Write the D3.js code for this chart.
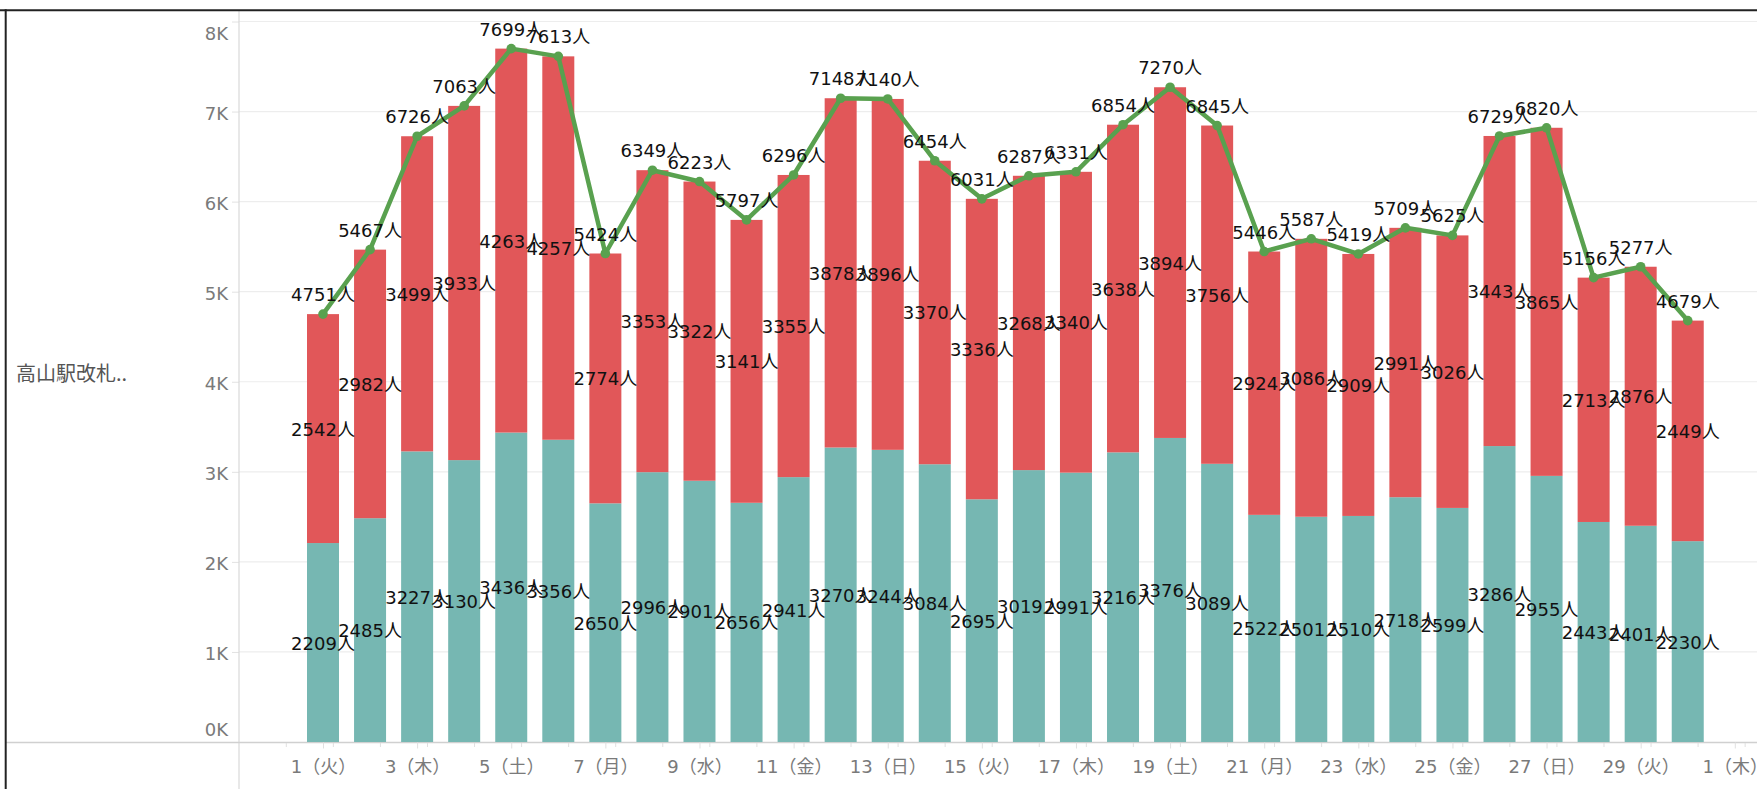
<!DOCTYPE html>
<html>
<head>
<meta charset="utf-8">
<script src="https://cdn.jsdelivr.net/npm/d3@7"></script>
<style>
  html, body { margin: 0; padding: 0; background: #fff; }
  svg { display: block; }
</style>
</head>
<body>
<svg id="chart" width="1757" height="789"></svg>
<script>
// ---- data ----
const days = [1,2,3,4,5,6,7,8,9,10,11,12,13,14,15,16,17,18,19,20,21,22,23,24,25,26,27,28,29,30];
const tealValues = [2209,2485,3227,3130,3436,3356,2650,2996,2901,2656,2941,3270,3244,3084,2695,3019,2991,3216,3376,3089,2522,2501,2510,2718,2599,3286,2955,2443,2401,2230];
const redValues  = [2542,2982,3499,3933,4263,4257,2774,3353,3322,3141,3355,3878,3896,3370,3336,3268,3340,3638,3894,3756,2924,3086,2909,2991,3026,3443,3865,2713,2876,2449];
const totalValues = [4751,5467,6726,7063,7699,7613,5424,6349,6223,5797,6296,7148,7140,6454,6031,6287,6331,6854,7270,6845,5446,5587,5419,5709,5625,6729,6820,5156,5277,4679];
const xTickDays = [1,3,5,7,9,11,13,15,17,19,21,23,25,27,29,31];
const xTickLabels = ["1（火）","3（木）","5（土）","7（月）","9（水）","11（金）","13（日）","15（火）","17（木）","19（土）","21（月）","23（水）","25（金）","27（日）","29（火）","1（木）"];
const yTicks = [0,1000,2000,3000,4000,5000,6000,7000,8000];
const minorDays = [0,1,2,3,4,5,6,7,8,9,10,11,12,13,14,15,16,17,18,19,20,21,22,23,24,25,26,27,28,29,30,31];
const rowHeader = "高山駅改札..";
const unit = "人";

// ---- styles ----
const W = 1757, H = 789;
const plotLeft = 239, baseY = 742, topY = 21.5;
const tealColor = "#76B7B2", redColor = "#E15759", lineColor = "#59A14F";
const numFont = "'DejaVu Sans', 'Noto Sans CJK JP', sans-serif";
const cjkFont = "'Noto Sans CJK JP', 'DejaVu Sans', sans-serif";

const svg = d3.select("#chart");

const x = d3.scaleLinear().domain([1, 31]).range([323, 1734.8]);
const y = d3.scaleLinear().domain([0, 8000]).range([baseY, topY]);
const barW = 32;

// gridlines
svg.append("g").selectAll("line").data(yTicks.filter(v => v > 0)).join("line")
  .attr("x1", plotLeft).attr("x2", W)
  .attr("y1", d => y(d)).attr("y2", d => y(d))
  .attr("stroke", "#ededed").attr("stroke-width", 1.2);

// y axis
const yAxis = d3.axisLeft(y).tickValues(yTicks).tickFormat(d => (d / 1000) + "K").tickSize(7).tickPadding(4);
const yg = svg.append("g").attr("transform", `translate(${plotLeft},0)`).call(yAxis);
yg.select(".domain").remove();
yg.selectAll(".tick line").attr("stroke", "#e2e2e2");
yg.selectAll(".tick text")
  .attr("fill", "#7a7a7a")
  .style("font-family", numFont).style("font-size", "18px")
  .attr("dy", d => d === 8000 ? "1.0em" : (d === 0 ? "-0.35em" : "0.42em"));

// frame lines
svg.append("line").attr("x1", plotLeft).attr("x2", plotLeft).attr("y1", 10).attr("y2", H)
  .attr("stroke", "#d9d9d9").attr("stroke-width", 1.2);
svg.append("line").attr("x1", 5).attr("x2", W).attr("y1", baseY + 0.5).attr("y2", baseY + 0.5)
  .attr("stroke", "#d0d0d0").attr("stroke-width", 1.5);
svg.append("line").attr("x1", 0).attr("x2", W).attr("y1", 10.3).attr("y2", 10.3)
  .attr("stroke", "#222").attr("stroke-width", 2);
svg.append("line").attr("x1", 5.7).attr("x2", 5.7).attr("y1", 9.3).attr("y2", H)
  .attr("stroke", "#222").attr("stroke-width", 2);

// x axis
svg.append("g").selectAll("line").data(minorDays).join("line")
  .attr("x1", d => x(d + 0.22)).attr("x2", d => x(d + 0.22))
  .attr("y1", baseY + 1).attr("y2", baseY + 5)
  .attr("stroke", "#e0e0e0").attr("stroke-width", 1);
const xAxis = d3.axisBottom(x).tickValues(xTickDays)
  .tickFormat((d, i) => xTickLabels[i]).tickSize(6).tickPadding(12);
const xg = svg.append("g").attr("transform", `translate(0,${baseY + 0.5})`).call(xAxis);
xg.select(".domain").remove();
xg.selectAll(".tick line").attr("stroke", "#e0e0e0");
xg.selectAll(".tick text")
  .attr("fill", "#7a7a7a")
  .style("font-family", numFont).style("font-size", "18px");

// row header
svg.append("text").attr("x", 16).attr("y", 381)
  .attr("fill", "#555").style("font-family", cjkFont).style("font-size", "20px")
  .text(rowHeader);

// bars
const rows = days.map((d, i) => ({ day: d, teal: tealValues[i], red: redValues[i], total: totalValues[i] }));
svg.append("g").selectAll("rect").data(rows).join("rect")
  .attr("x", d => x(d.day) - barW / 2).attr("width", barW)
  .attr("y", d => y(d.teal)).attr("height", d => y(0) - y(d.teal))
  .attr("fill", tealColor);
svg.append("g").selectAll("rect").data(rows).join("rect")
  .attr("x", d => x(d.day) - barW / 2).attr("width", barW)
  .attr("y", d => y(d.teal + d.red)).attr("height", d => y(d.teal) - y(d.teal + d.red))
  .attr("fill", redColor);

// line
const line = d3.line().x(d => x(d.day)).y(d => y(d.total));
svg.append("path").datum(rows).attr("d", line)
  .attr("fill", "none").attr("stroke", lineColor).attr("stroke-width", 4.5).attr("stroke-linejoin", "round");
svg.append("g").selectAll("circle").data(rows).join("circle")
  .attr("cx", d => x(d.day)).attr("cy", d => y(d.total)).attr("r", 4.8)
  .attr("fill", lineColor);

// labels
const lab = svg.append("g").style("font-family", numFont).style("font-size", "18px").attr("fill", "#111").attr("text-anchor", "middle");
lab.selectAll("text.t").data(rows).join("text").attr("class", "t")
  .attr("x", d => x(d.day)).attr("y", d => (y(0) + y(d.teal)) / 2 + 7)
  .text(d => d.teal + unit);
lab.selectAll("text.r").data(rows).join("text").attr("class", "r")
  .attr("x", d => x(d.day)).attr("y", d => (y(d.teal) + y(d.teal + d.red)) / 2 + 7)
  .text(d => d.red + unit);
lab.selectAll("text.s").data(rows).join("text").attr("class", "s")
  .attr("x", d => x(d.day)).attr("y", d => y(d.total) - 13)
  .text(d => d.total + unit);
</script>
</body>
</html>
